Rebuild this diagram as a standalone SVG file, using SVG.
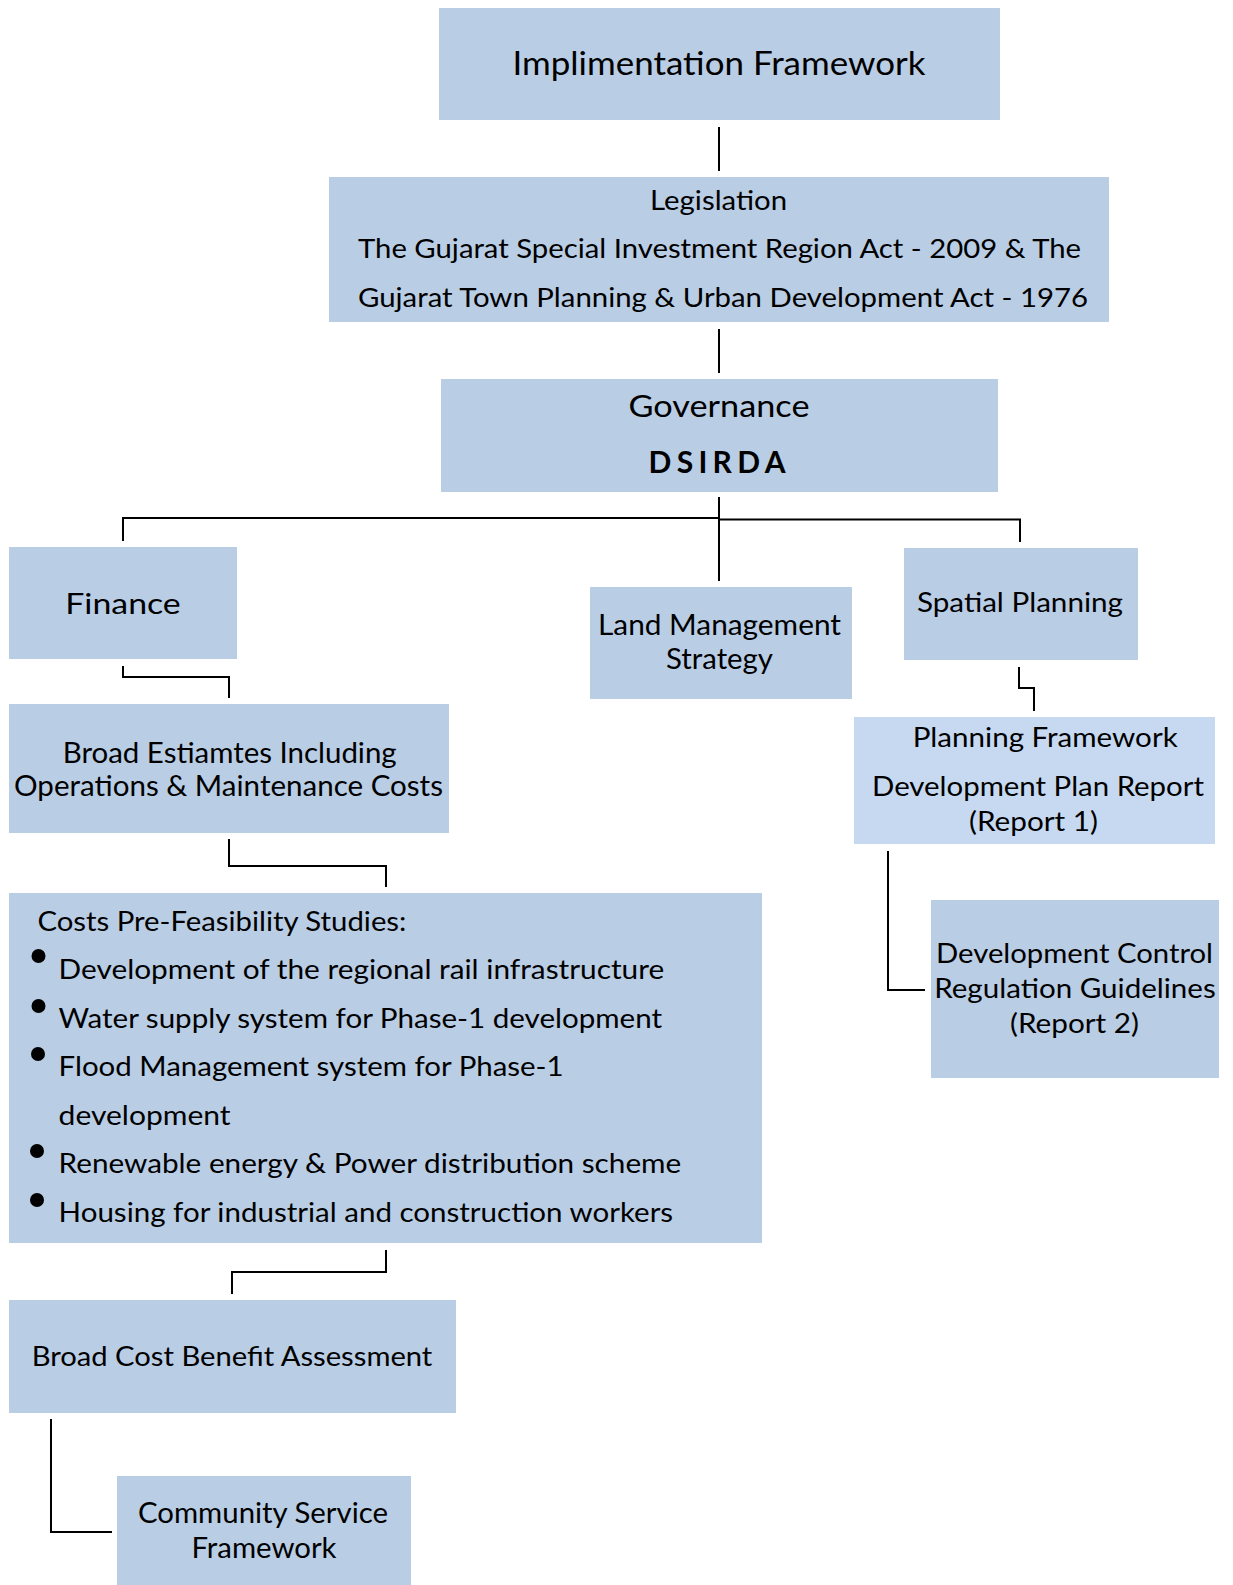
<svg xmlns="http://www.w3.org/2000/svg" width="1233" height="1585" viewBox="0 0 1233 1585">
<style>
.box{fill:#b9cde5}
.light{fill:#c6d9f1}
text{font-family:Lato,"Open Sans","Liberation Sans",sans-serif;fill:#000}
.c{text-anchor:middle}
.s{text-anchor:start}
.conn path{fill:none;stroke:#000;stroke-width:2}
</style>
<rect width="1233" height="1585" fill="#fff"/>
<g id="impl"><rect class="box" x="439" y="8" width="561" height="112"/>
<text class="c" x="719" y="75" font-size="32" textLength="413" lengthAdjust="spacingAndGlyphs">Implimentation Framework</text></g>
<g id="legislation"><rect class="box" x="329" y="177" width="780" height="145"/>
<text class="c" x="718.6" y="210" font-size="26" textLength="137" lengthAdjust="spacingAndGlyphs">Legislation</text>
<text class="s" x="358" y="258" font-size="26.5" textLength="723" lengthAdjust="spacingAndGlyphs">The Gujarat Special Investment Region Act - 2009 &amp; The</text>
<text class="s" x="358" y="307" font-size="26.5" textLength="730" lengthAdjust="spacingAndGlyphs">Gujarat Town Planning &amp; Urban Development Act - 1976</text></g>
<g id="governance"><rect class="box" x="441" y="379" width="557" height="113"/>
<text class="c" x="719" y="417" font-size="30" textLength="181" lengthAdjust="spacingAndGlyphs">Governance</text>
<text class="c" x="717" y="473" font-size="30" font-weight="bold" textLength="137" lengthAdjust="spacing">DSIRDA</text></g>
<g id="finance"><rect class="box" x="9" y="547" width="228" height="112"/>
<text class="c" x="123" y="613.5" font-size="29" textLength="115.5" lengthAdjust="spacingAndGlyphs">Finance</text></g>
<g id="land"><rect class="box" x="590" y="587" width="262" height="112"/>
<text class="c" x="719.5" y="635" font-size="28" textLength="243" lengthAdjust="spacingAndGlyphs">Land Management</text>
<text class="c" x="719.5" y="669" font-size="28" textLength="107" lengthAdjust="spacingAndGlyphs">Strategy</text></g>
<g id="spatial"><rect class="box" x="904" y="548" width="234" height="112"/>
<text class="c" x="1020" y="611.5" font-size="26" textLength="206" lengthAdjust="spacingAndGlyphs">Spatial Planning</text></g>
<g id="estimates"><rect class="box" x="9" y="704" width="440" height="129"/>
<text class="c" x="229.7" y="763" font-size="28" textLength="334" lengthAdjust="spacingAndGlyphs">Broad Estiamtes Including</text>
<text class="c" x="228.5" y="796" font-size="28" textLength="429" lengthAdjust="spacingAndGlyphs">Operations &amp; Maintenance Costs</text></g>
<g id="costs"><rect class="box" x="9" y="893" width="753" height="350"/>
<text class="s" x="37.4" y="931" font-size="27" textLength="369" lengthAdjust="spacingAndGlyphs">Costs Pre-Feasibility Studies:</text>
<circle cx="38.5" cy="956" r="7"/><circle cx="38.5" cy="1006" r="7"/><circle cx="38" cy="1054" r="7"/><circle cx="37" cy="1151" r="7"/><circle cx="37" cy="1200" r="7"/>
<text class="s" x="58.6" y="979.3" font-size="27" textLength="605.6" lengthAdjust="spacingAndGlyphs">Development of the regional rail infrastructure</text>
<text class="s" x="58.6" y="1027.8" font-size="27" textLength="603.5" lengthAdjust="spacingAndGlyphs">Water supply system for Phase-1 development</text>
<text class="s" x="58.6" y="1076.3" font-size="27" textLength="505" lengthAdjust="spacingAndGlyphs">Flood Management system for Phase-1</text>
<text class="s" x="58.6" y="1124.8" font-size="27" textLength="172" lengthAdjust="spacingAndGlyphs">development</text>
<text class="s" x="58.6" y="1173.3" font-size="27" textLength="622.6" lengthAdjust="spacingAndGlyphs">Renewable energy &amp; Power distribution scheme</text>
<text class="s" x="58.6" y="1221.8" font-size="27" textLength="614.5" lengthAdjust="spacingAndGlyphs">Housing for industrial and construction workers</text></g>
<g id="planning"><rect class="light" x="854" y="717" width="361" height="127"/>
<text class="c" x="1045.2" y="747" font-size="27" textLength="265" lengthAdjust="spacingAndGlyphs">Planning Framework</text>
<text class="c" x="1038" y="796" font-size="27" textLength="332" lengthAdjust="spacingAndGlyphs">Development Plan Report</text>
<text class="c" x="1033.5" y="831" font-size="27" textLength="129" lengthAdjust="spacingAndGlyphs">(Report 1)</text></g>
<g id="dcr"><rect class="box" x="931" y="900" width="288" height="178"/>
<text class="c" x="1074.5" y="962.7" font-size="27" textLength="277" lengthAdjust="spacingAndGlyphs">Development Control</text>
<text class="c" x="1075" y="998" font-size="27" textLength="281.6" lengthAdjust="spacingAndGlyphs">Regulation Guidelines</text>
<text class="c" x="1074.5" y="1033" font-size="27" textLength="129" lengthAdjust="spacingAndGlyphs">(Report 2)</text></g>
<g id="cba"><rect class="box" x="9" y="1300" width="447" height="113"/>
<text class="c" x="232" y="1365.7" font-size="27" textLength="400.7" lengthAdjust="spacingAndGlyphs">Broad Cost Benefit Assessment</text></g>
<g id="community"><rect class="box" x="117" y="1476" width="294" height="109"/>
<text class="c" x="263" y="1523" font-size="29" textLength="250" lengthAdjust="spacingAndGlyphs">Community Service</text>
<text class="c" x="264" y="1558" font-size="29" textLength="145" lengthAdjust="spacingAndGlyphs">Framework</text></g>
<g id="connectors" class="conn">
<path d="M719,127 V171"/>
<path d="M719,329 V373"/>
<path d="M719,497 V581"/>
<path d="M123,541 V518 H720"/>
<path d="M720,519.5 H1020 V542"/>
<path d="M123,666 V677 H229 V698"/>
<path d="M229,839 V866 H386 V887"/>
<path d="M386,1250 V1272 H232 V1294"/>
<path d="M51,1419 V1532 H112"/>
<path d="M1019,667 V688 H1034 V711"/>
<path d="M888,851 V990 H925"/>
</g>
</svg>
